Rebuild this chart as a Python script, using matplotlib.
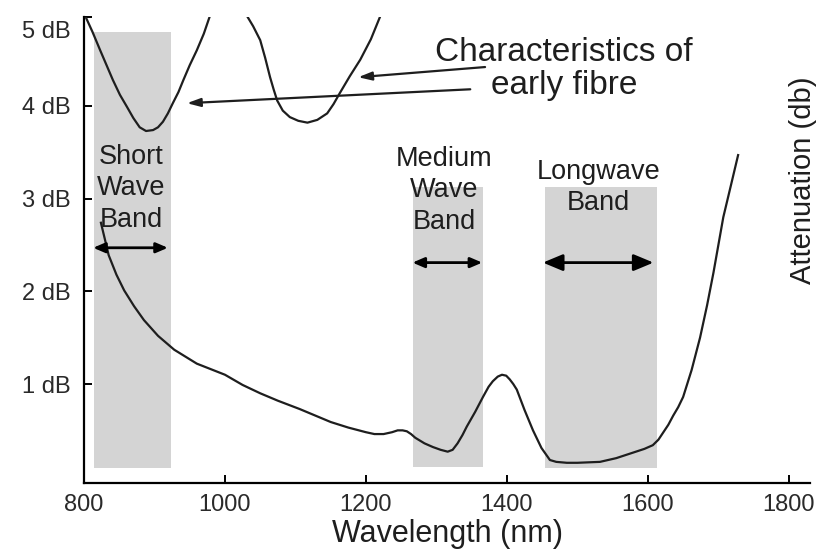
import matplotlib

matplotlib.use("Agg")
from matplotlib import pyplot as plt

plt.rcParams["font.family"] = ["Liberation Sans", "DejaVu Sans"]

# loss curve of modern fibre (nm, dB)
wavelength = [824, 830, 835, 846, 857, 871, 885, 905, 928, 960, 1000, 1025, 1050, 1075, 1106,
              1128, 1150, 1175, 1200, 1212, 1225, 1237, 1245, 1252, 1258, 1264, 1270, 1283,
              1295, 1306, 1316, 1323, 1330, 1337, 1343, 1355, 1366, 1374, 1380, 1387, 1393,
              1399, 1404, 1409, 1414, 1425, 1437, 1449, 1461, 1470, 1485, 1500, 1532, 1555,
              1579, 1595, 1607, 1615, 1622, 1629, 1636, 1643, 1650, 1662, 1674, 1684, 1693,
              1700, 1707, 1718, 1728]
attenuation = [2.74, 2.55, 2.39, 2.18, 2.01, 1.84, 1.69, 1.52, 1.37, 1.22, 1.10, 0.99, 0.90,
               0.82, 0.73, 0.66, 0.59, 0.53, 0.48, 0.46, 0.46, 0.48, 0.50, 0.50, 0.49, 0.46,
               0.42, 0.36, 0.32, 0.29, 0.27, 0.29, 0.36, 0.45, 0.54, 0.70, 0.86, 0.97, 1.03,
               1.08, 1.10, 1.09, 1.05, 1.00, 0.94, 0.72, 0.50, 0.31, 0.18, 0.16, 0.15, 0.15,
               0.16, 0.20, 0.26, 0.30, 0.34, 0.40, 0.48, 0.56, 0.66, 0.75, 0.86, 1.15, 1.50,
               1.85, 2.20, 2.50, 2.80, 3.15, 3.47]

# early fibre characteristics (two troughs)
early1_wl = [800, 812, 823, 832, 841, 851, 861, 870, 879, 888, 898, 905, 912, 919, 926, 934,
             941, 950, 960, 970, 979]
early1_db = [5.00, 4.80, 4.60, 4.44, 4.28, 4.12, 3.99, 3.87, 3.77, 3.73, 3.74, 3.77, 3.83,
             3.92, 4.03, 4.15, 4.28, 4.44, 4.60, 4.78, 4.98]
early2_wl = [1029, 1040, 1050, 1057, 1064, 1069, 1074, 1082, 1092, 1104, 1117, 1131, 1145,
             1154, 1163, 1177, 1192, 1207, 1222]
early2_db = [5.00, 4.86, 4.71, 4.52, 4.31, 4.18, 4.06, 3.95, 3.88, 3.84, 3.82, 3.85, 3.92,
             4.02, 4.14, 4.32, 4.50, 4.72, 5.00]

# transmission bands
band_names = ["Short\nWave\nBand", "Medium\nWave\nBand", "Longwave\nBand"]
band_start = [814, 1267, 1454]
band_end = [923, 1366, 1613]
band_bottom = [0.09, 0.11, 0.09]
band_top = [4.80, 3.13, 3.13]
band_label_x = [867, 1311, 1530]
band_label_y = [3.11, 3.09, 3.12]
band_arrow_from = [813, 1266, 1451]
band_arrow_to = [919, 1365, 1608]
band_arrow_y = [2.47, 2.31, 2.31]

y_ticks = [1, 2, 3, 4]
y_tick_labels = ["1 dB", "2 dB", "3 dB", "4 dB"]
x_ticks = [800, 1000, 1200, 1400, 1600, 1800]

ink = "#1e1e1e"

fig = plt.figure(figsize=(8.22, 5.52), dpi=100)
ax = fig.add_axes([84 / 822, 1 - 483 / 552, 726 / 822, 466 / 552])
ax.set_xlim(800, 1830)
ax.set_ylim(-0.068, 4.96)

for start, end, bottom, top in zip(band_start, band_end, band_bottom, band_top):
    ax.bar(start, top - bottom, bottom=bottom, width=end - start, align="edge",
           color="#d4d4d4", linewidth=0, zorder=1)

ax.plot(wavelength, attenuation, color=ink, linewidth=1.6, zorder=3)
ax.plot(early1_wl, early1_db, color=ink, linewidth=1.6, zorder=3)
ax.plot(early2_wl, early2_db, color=ink, linewidth=1.6, zorder=3)

for i, name in enumerate(band_names):
    ax.text(band_label_x[i], band_label_y[i], name, ha="center", va="center",
            fontsize=19.5, color=ink, linespacing=1.28, zorder=4)
    heavy = i == 2
    ax.annotate("", xy=(band_arrow_to[i], band_arrow_y[i]), xytext=(band_arrow_from[i], band_arrow_y[i]),
                arrowprops=dict(arrowstyle="<|-|>,head_length=%s,head_width=%s" % ((1.2, 0.5) if heavy else (0.7, 0.3)),
                                color="black", linewidth=2.0, shrinkA=0, shrinkB=0), zorder=5)

# pointers from the caption to the early fibre curves
ax.annotate("", xy=(946, 4.03), xytext=(1348, 4.18),
            arrowprops=dict(arrowstyle="-|>,head_length=0.8,head_width=0.25", color=ink,
                            linewidth=1.6, shrinkA=0, shrinkB=0))
ax.annotate("", xy=(1189, 4.31), xytext=(1369, 4.42),
            arrowprops=dict(arrowstyle="-|>,head_length=0.8,head_width=0.25", color=ink,
                            linewidth=1.6, shrinkA=0, shrinkB=0))
ax.text(1481, 4.40, "Characteristics of\nearly fibre", ha="center", va="center",
        fontsize=24, color=ink, linespacing=1.08)

ax.spines["top"].set_visible(False)
ax.spines["right"].set_visible(False)
ax.spines["left"].set_linewidth(1.6)
ax.spines["bottom"].set_linewidth(1.6)
ax.set_xticks(x_ticks)
ax.set_yticks(y_ticks + [4.96])
ax.set_yticklabels(y_tick_labels + [""])
ax.tick_params(axis="both", direction="in", length=6, width=1.4, labelsize=17, labelcolor="#2a2a2a")
ax.tick_params(axis="x", pad=8)
ax.tick_params(axis="y", pad=9.5)
ax.annotate("5 dB", xy=(0, 4.80), xycoords=("axes fraction", "data"), xytext=(-9.5, 0),
            textcoords="offset points", ha="right", va="center", fontsize=17, color="#2a2a2a",
            annotation_clip=False)

ax.set_xlabel("Wavelength (nm)", fontsize=22, color=ink, labelpad=2)
fig.text(803 / 822, 1 - 180 / 552, "Attenuation (db)", rotation=90, ha="center", va="center",
         fontsize=21, color=ink)

fig.savefig("out.png", dpi=100)
